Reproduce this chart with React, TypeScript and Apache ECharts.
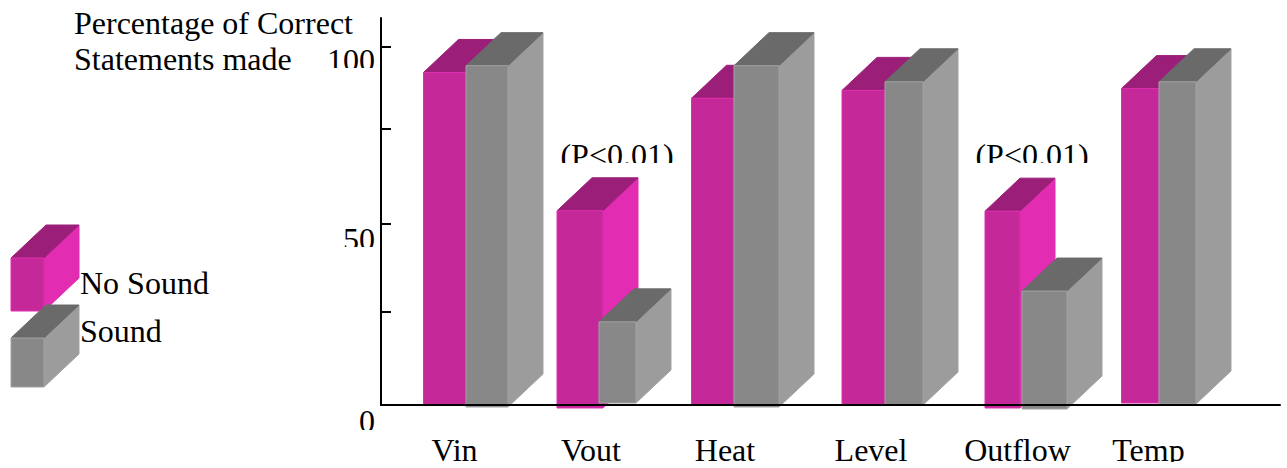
import React, { useEffect, useRef } from "react";
import * as echarts from "echarts";

// Measurements, in percent of correct statements
const categories = ["Vin", "Vout", "Heat", "Level", "Outflow", "Temp"];
const noSound = [92.8, 54.2, 85.6, 87.8, 54.1, 88.3];
const sound = [94.7, 23.2, 94.7, 90.2, 31.8, 90.2];

// Scale
const yLabelValues = [0, 50, 100];
const yTickValues = [100, 77, 50.5, 26];

// Layout along the horizontal axis, measured from the origin
const categoryCentres = [73.5, 210, 344, 490, 636.5, 767.5];
const noSoundLeft = [42.5, 176, 310.5, 461, 604, 740.5];
const noSoundWidth = [43.5, 46, 43.5, 43, 35, 37.5];
const soundLeft = [85, 218, 353, 504, 641, 778];
const soundWidth = [42, 37, 45, 38, 45, 37];
const noSoundBaseShift = [0, 3, 0, 0, 3, -2];
const soundBaseShift = [2, -2, 2, 0, 4, -1];

const FONT = "'Liberation Serif', 'Times New Roman', serif";
const FONT_SIZE = 32;
const DEPTH_X = 35;
const DEPTH_Y = 33;

const MAGENTA = { front: "#c42899", side: "#e22db2", top: "#9b1f78", edge: "#e02eb0" };
const GREY = { front: "#888888", side: "#9c9c9c", top: "#6a6a6a", edge: "#a2a2a2" };

type Palette = typeof MAGENTA;

// One box: front face, side face and lid, as three polygons
function boxFaces(l: number, r: number, t: number, b: number, c: Palette): any[] {
  const face = (points: number[][], fill: string, stroke: string) => ({
    type: "polygon",
    shape: { points },
    style: { fill, stroke, lineWidth: 1 },
  });
  return [
    face([[r, t], [r + DEPTH_X, t - DEPTH_Y], [r + DEPTH_X, b - DEPTH_Y], [r, b]], c.side, c.edge),
    face([[l, t], [l + DEPTH_X, t - DEPTH_Y], [r + DEPTH_X, t - DEPTH_Y], [r, t]], c.top, c.top),
    face([[l, t], [r, t], [r, b], [l, b]], c.front, c.edge),
  ];
}

function boxSeries(name: string, values: number[], lefts: number[], widths: number[], shifts: number[], c: Palette, z: number) {
  return {
    type: "custom",
    name,
    z,
    clip: false,
    encode: { x: 0, y: 1 },
    data: values.map((v, i) => [lefts[i], v, widths[i], shifts[i]]),
    renderItem: (_: any, api: any) => {
      const left = api.value(0);
      const [l, t] = api.coord([left, api.value(1)]);
      const [r, base] = api.coord([left + api.value(2), 0]);
      return { type: "group", children: boxFaces(l, r, t, base + api.value(3), c) };
    },
  };
}

function label(text: string, x: number, y: number, align = "left") {
  return {
    type: "text",
    x,
    y,
    z: 5,
    style: { text, x: 0, y: 0, fill: "#000", font: `${FONT_SIZE}px ${FONT}`, align, verticalAlign: "middle" },
  };
}

const mask = (x: number, y: number, width: number, height: number) => ({
  type: "rect",
  z: 20,
  shape: { x, y, width, height },
  style: { fill: "#fff" },
});

export default function App() {
  const ref = useRef<HTMLDivElement>(null);
  useEffect(() => {
    const chart = echarts.init(ref.current!, undefined, { renderer: "svg" });
    const legendBox = (t: number, b: number, c: Palette) => ({
      type: "group",
      children: boxFaces(11, 44, t, b, c).map((f) => ({ ...f, z: 3 })),
    });
    chart.setOption({
      animation: false,
      backgroundColor: "#fff",
      grid: { left: 381, top: 18, width: 899, height: 387, outerBoundsMode: "none" },
      xAxis: {
        type: "value",
        min: 0,
        max: 899,
        z: 10,
        splitLine: { show: false },
        axisLine: { show: true, onZero: false, lineStyle: { color: "#000", width: 2 } },
        axisTick: { show: false },
        axisLabel: {
          customValues: categoryCentres,
          margin: 29,
          verticalAlign: "top",
          hideOverlap: false,
          color: "#000",
          fontFamily: FONT,
          fontSize: FONT_SIZE,
          formatter: (v: number) => categories[categoryCentres.indexOf(v)],
        },
      },
      yAxis: {
        type: "value",
        min: 0,
        max: 108,
        z: 10,
        splitLine: { show: false },
        axisLine: { show: true, onZero: false, lineStyle: { color: "#000", width: 2 } },
        axisTick: { show: true, inside: true, length: 10, customValues: yTickValues, lineStyle: { color: "#000", width: 2 } },
        axisLabel: {
          customValues: yLabelValues,
          margin: 6,
          verticalAlign: "top",
          hideOverlap: false,
          color: "#000",
          fontFamily: FONT,
          fontSize: FONT_SIZE,
          lineHeight: 26,
          formatter: (v: number) => (v === 0 ? "{low|0}" : String(v)),
          rich: { low: { fontFamily: FONT, fontSize: FONT_SIZE, lineHeight: 26, color: "#000", padding: [5, 0, 0, 0] } },
        },
      },
      series: [
        boxSeries("No Sound", noSound, noSoundLeft, noSoundWidth, noSoundBaseShift, MAGENTA, 2),
        boxSeries("Sound", sound, soundLeft, soundWidth, soundBaseShift, GREY, 3),
      ],
      graphic: [
        label("Percentage of Correct", 74, 23),
        label("Statements made", 74, 59),
        label("No Sound", 80, 283),
        label("Sound", 80, 331),
        label("(P<0.01)", 617, 155, "center"),
        label("(P<0.01)", 1032, 155, "center"),
        legendBox(258, 311, MAGENTA),
        legendBox(338, 387, GREY),
        // The printed labels are cut off along their lower edge
        mask(320, 68, 58, 8),
        mask(320, 247, 58, 8),
        mask(340, 430, 38, 10),
        mask(550, 163, 130, 12),
        mask(965, 163, 130, 12),
        mask(400, 462, 887, 6),
      ],
    });
    return () => chart.dispose();
  }, []);
  return <div ref={ref} style={{ width: 1287, height: 468, position: "absolute", left: 0, top: 0 }} />;
}
